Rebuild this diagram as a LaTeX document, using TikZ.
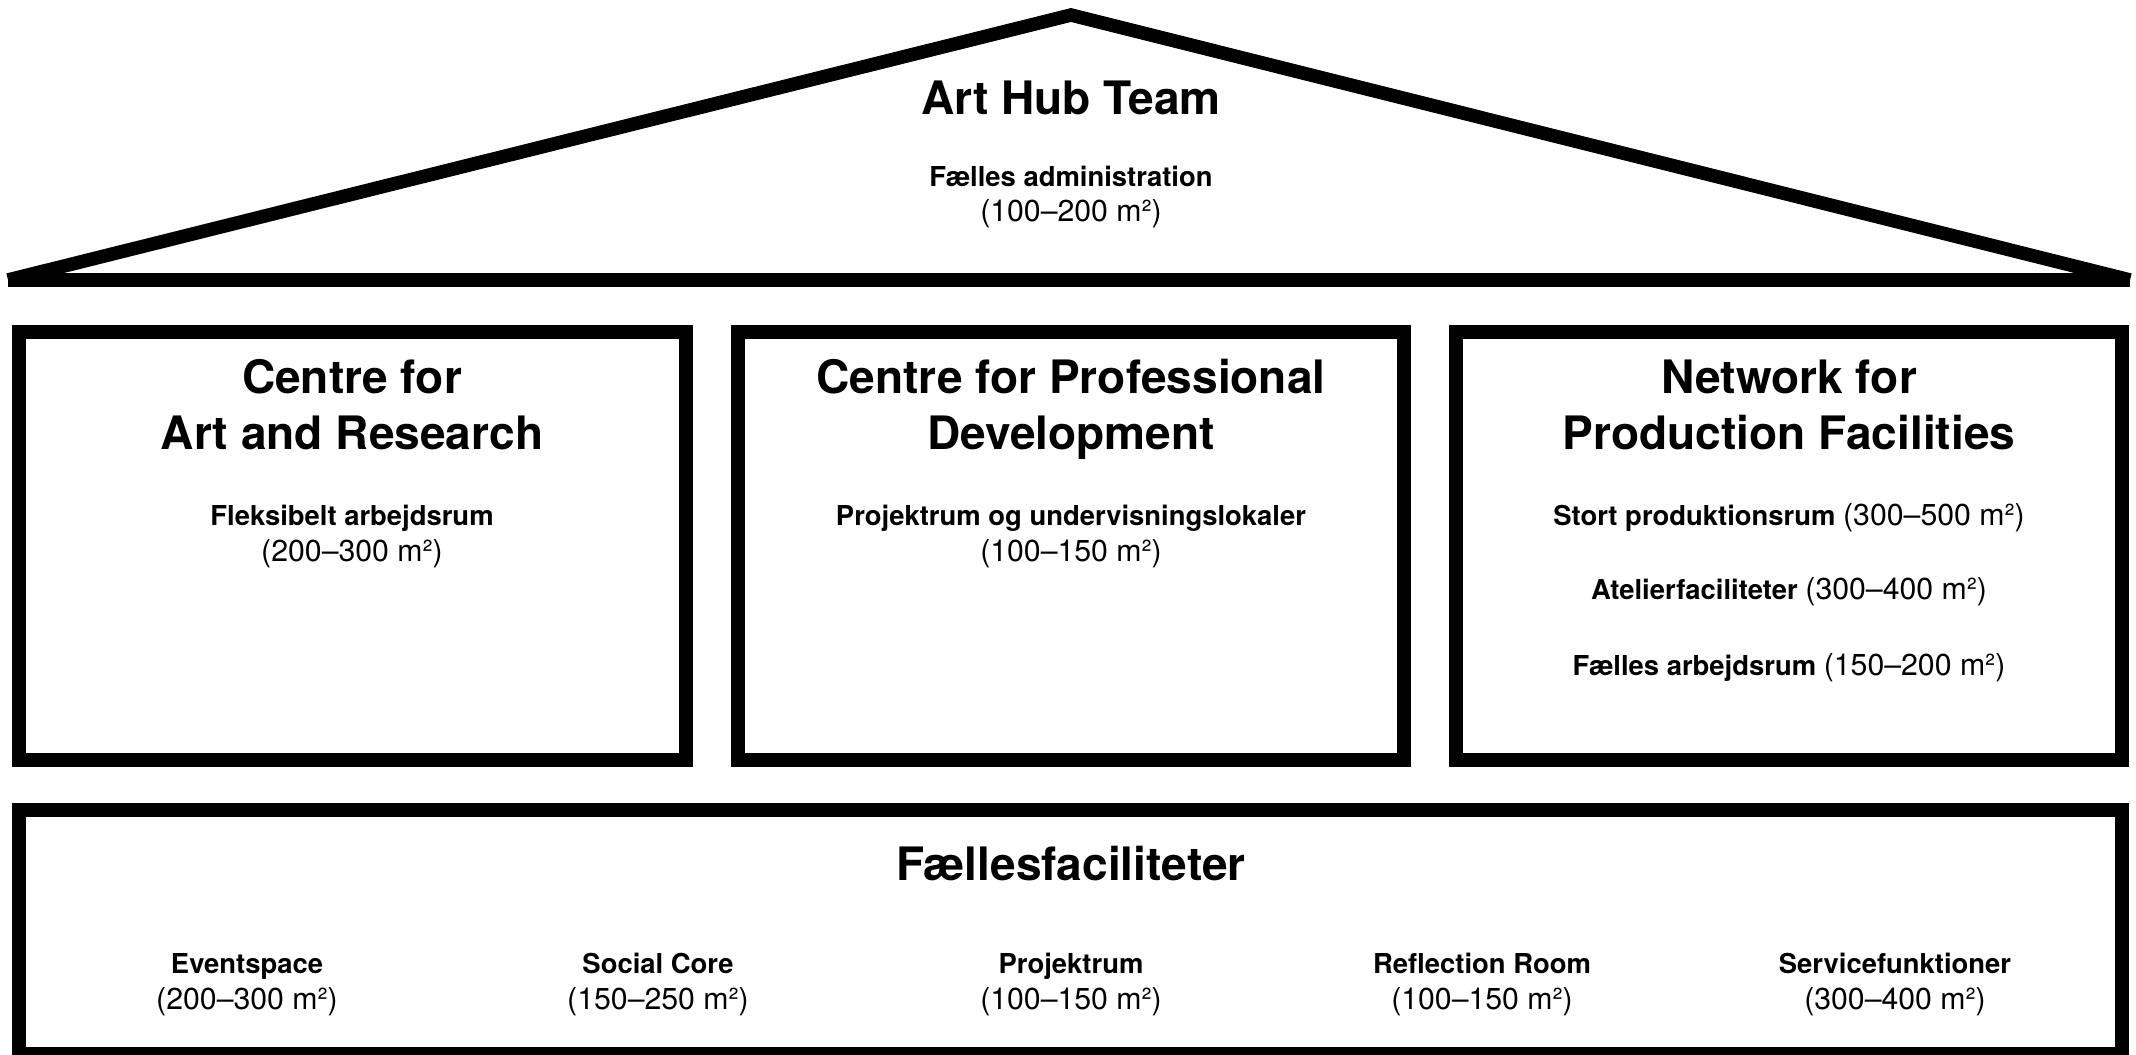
\documentclass[tikz,border=0pt]{standalone}
\usepackage{fontspec}
\setmainfont{TeX Gyre Heros}
\newcommand{\area}[1]{{\fontsize{8.6}{10.2}\selectfont #1}}
\begin{document}
\begin{tikzpicture}[x=0.01cm,y=-0.01cm,
  frame/.style={line width=0.135cm, line join=miter},
  roofline/.style={line width=0.135cm, line cap=butt, line join=miter},
  head/.style={font=\fontsize{13.1}{16.2}\selectfont\bfseries, align=center, anchor=base, inner sep=0pt},
  sub/.style={font=\fontsize{7.8}{10.2}\selectfont, align=center, anchor=base, inner sep=0pt}]
\useasboundingbox (0,0) rectangle (2136,1055);
% roof
\coordinate (L) at (8,280);
\coordinate (A) at (1071,15);
\coordinate (R) at (2130,280);
\draw[roofline] (L) -- (A) -- (R);
\draw[roofline] (L) -- (R);
\node[head] (hub) at (1071,115) {Art Hub Team};
\node[sub] (adm) at (1071,222) {\textbf{Fælles administration}\\\area{(100–200 m²)}};
% three centres
\draw[frame] (19,332) rectangle (686,760);
\draw[frame] (738,332) rectangle (1404,760);
\draw[frame] (1456,332) rectangle (2122,760);
\node[head] (car) at (352,450) {Centre for\\Art and Research};
\node[sub] (carA) at (352,561) {\textbf{Fleksibelt arbejdsrum}\\\area{(200–300 m²)}};
\node[head] (cpd) at (1071,450) {Centre for Professional\\Development};
\node[sub] (cpdA) at (1071,561) {\textbf{Projektrum og undervisningslokaler}\\\area{(100–150 m²)}};
\node[head] (npf) at (1789,450) {Network for\\Production Facilities};
\node[sub] (npfA) at (1789,525) {\textbf{Stort produktionsrum} \area{(300–500 m²)}};
\node[sub] (npfB) at (1789,600) {\textbf{Atelierfaciliteter} \area{(300–400 m²)}};
\node[sub] (npfC) at (1789,675) {\textbf{Fælles arbejdsrum} \area{(150–200 m²)}};
% shared facilities
\draw[frame] (19,810) rectangle (2122,1054);
\node[head] (ff) at (1071,880) {Fællesfaciliteter};
\node[sub] (ev) at (247,1009) {\textbf{Eventspace}\\\area{(200–300 m²)}};
\node[sub] (sc) at (658,1009) {\textbf{Social Core}\\\area{(150–250 m²)}};
\node[sub] (pr) at (1071,1009) {\textbf{Projektrum}\\\area{(100–150 m²)}};
\node[sub] (rr) at (1482,1009) {\textbf{Reflection Room}\\\area{(100–150 m²)}};
\node[sub] (sf) at (1895,1009) {\textbf{Servicefunktioner}\\\area{(300–400 m²)}};
\end{tikzpicture}
\end{document}
